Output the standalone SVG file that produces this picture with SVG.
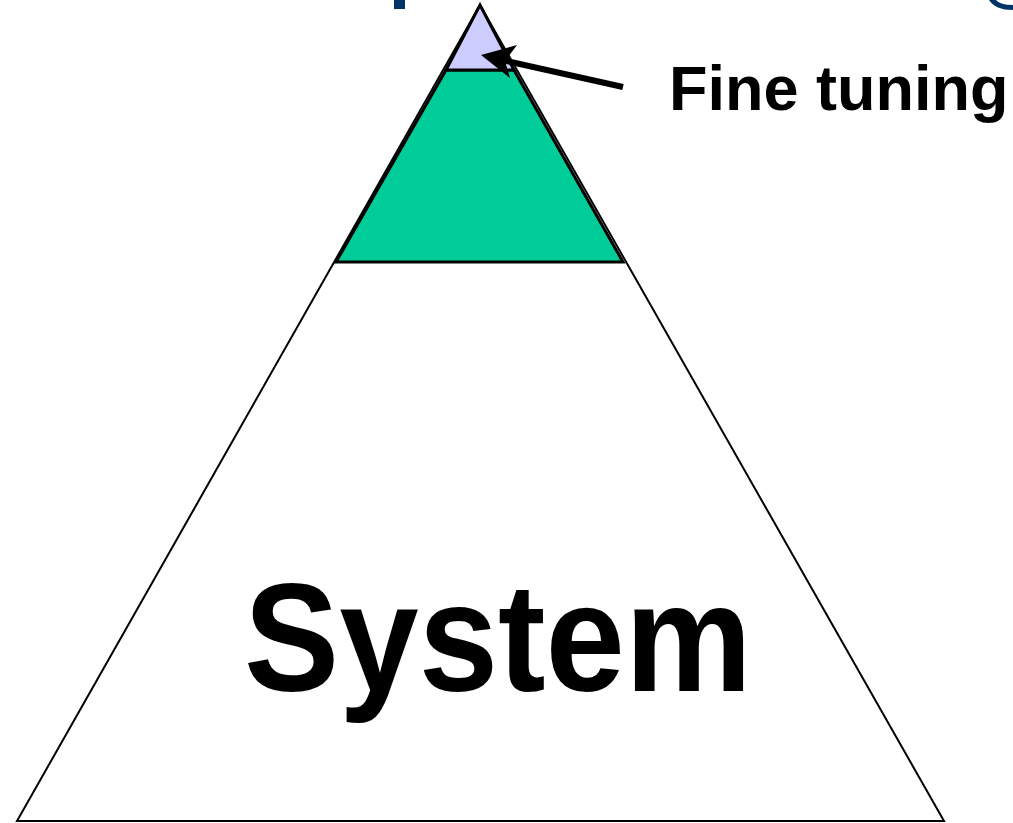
<svg xmlns="http://www.w3.org/2000/svg" width="1013" height="823" viewBox="0 0 1013 823">
<style>
.lbl{font-family:"Liberation Sans",Arial,sans-serif;font-weight:bold;fill:#000}
.frag{fill:#003366}
</style>
<rect width="1013" height="823" fill="#fff"/>
<g id="title-fragments">
<rect class="frag" x="394" y="0" width="11" height="9"/>
<path class="frag" d="M989,0 Q995,10 1013,10 L1013,5 Q1000,5 996,0 Z"/>
</g>
<g id="pyramid">
<polygon points="480,5 17,821 944,821" fill="#fff" stroke="#000" stroke-width="2"/>
</g>
<g id="layer-middle">
<polygon points="446,70 514,70 623,262 336,262" fill="#00CC99" stroke="#000" stroke-width="3"/>
</g>
<g id="layer-top">
<polygon points="480,5 514,70 446,70" fill="#CCCCFF" stroke="#000" stroke-width="3"/>
</g>
<g id="connectors">
<line x1="623" y1="87" x2="502" y2="60" stroke="#000" stroke-width="6"/>
<polygon points="481,55 517,45 505,61 510,78" fill="#000"/>
</g>
<g id="label-fine">
<text class="lbl" x="669" y="110" font-size="63">Fine tuning</text>
</g>
<g id="label-system">
<text class="lbl" x="244" y="691" font-size="154" textLength="508" lengthAdjust="spacingAndGlyphs">System</text>
</g>
</svg>
